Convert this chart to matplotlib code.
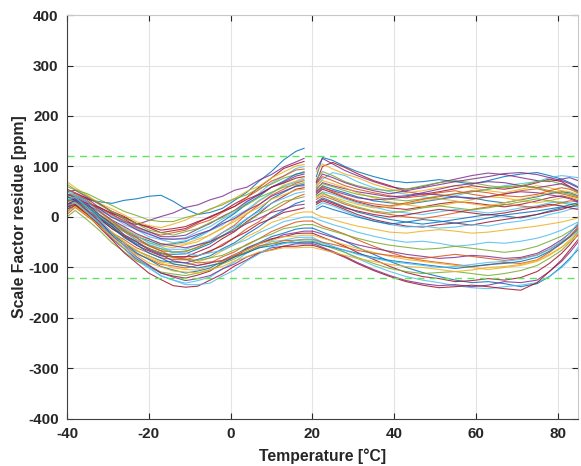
import matplotlib.pyplot as plt

nan = float('nan')

# temperature steps of the cold run and the hot run [degC]
temp_cold = [-40, -38, -35, -32, -29, -26, -23, -20, -17, -14, -11,
             -8, -5, -2, 1, 4, 7, 10, 13, 16, 18, 20]
temp_hot = [20, 21, 22.5, 25, 28, 31, 35, 39, 43, 47, 51,
            55, 59, 63, 67, 71, 75, 78, 81, 83, 85]

# scale factor residue per unit, cold run [ppm]
cold_ppm = [
    [30, 42, 35, 30, 27, 33, 36, 41, 43, 31, 16, 5, 9, 17, 33, 49, 71, 90, 113, 130, 136, nan],
    [55, 48, 36, 18, 6, -9, -15, -7, 1, 8, 19, 24, 34, 41, 53, 59, 73, 84, 99, 109, 116, nan],
    [40, 47, 37, 26, 11, 1, -13, -21, -31, -27, -23, -11, 1, 11, 26, 39, 59, 77, 96, 105, 110, nan],
    [70, 58, 43, 27, 16, 4, -9, -17, -21, -14, -6, 6, 14, 27, 37, 51, 61, 77, 89, 101, 104, nan],
    [25, 36, 27, 16, 1, -9, -23, -32, -43, -44, -41, -29, -19, -4, 9, 29, 47, 67, 81, 96, 100, nan],
    [45, 41, 29, 19, 4, -7, -21, -29, -36, -31, -26, -14, -6, 9, 21, 39, 54, 71, 81, 93, 95, nan],
    [60, 54, 46, 34, 23, 11, 3, -6, -9, -9, -1, 5, 16, 24, 36, 44, 57, 65, 77, 84, 90, nan],
    [35, 31, 17, 3, -13, -24, -39, -47, -56, -53, -49, -37, -26, -9, 7, 26, 41, 59, 71, 85, 88, nan],
    [50, 53, 39, 26, 9, -4, -19, -29, -39, -39, -36, -24, -13, 1, 13, 31, 44, 59, 69, 81, 85, nan],
    [20, 33, 27, 19, 7, -1, -13, -19, -26, -23, -19, -9, -1, 11, 21, 35, 45, 59, 67, 77, 80, nan],
    [40, 37, 23, 4, -9, -26, -37, -51, -57, -61, -55, -49, -35, -23, -5, 11, 31, 47, 63, 71, 78, nan],
    [55, 44, 31, 13, 1, -15, -25, -39, -45, -51, -47, -41, -27, -16, 1, 14, 33, 47, 61, 69, 75, nan],
    [30, 37, 19, 3, -16, -29, -46, -57, -67, -69, -69, -59, -49, -31, -16, 6, 24, 43, 55, 67, 72, nan],
    [65, 54, 41, 24, 11, -3, -13, -26, -31, -36, -29, -23, -11, -1, 13, 24, 39, 49, 59, 64, 68, nan],
    [15, 29, 14, -4, -23, -37, -53, -62, -73, -74, -73, -63, -53, -37, -23, -4, 14, 36, 49, 61, 65, nan],
    [45, 43, 29, 16, -1, -11, -25, -34, -43, -44, -43, -34, -26, -13, -3, 13, 25, 41, 51, 61, 62, nan],
    [25, 31, 13, -4, -23, -39, -56, -67, -77, -79, -79, -69, -59, -43, -29, -9, 7, 27, 41, 55, 58, nan],
    [50, 41, 24, 9, -9, -21, -36, -44, -53, -54, -53, -44, -36, -21, -9, 7, 19, 35, 44, 53, 55, nan],
    [35, 34, 19, 3, -16, -29, -45, -54, -63, -64, -64, -55, -46, -31, -19, -3, 11, 27, 37, 47, 50, nan],
    [20, 26, 7, -11, -31, -45, -61, -71, -81, -84, -85, -77, -69, -54, -41, -23, -9, 11, 25, 39, 45, nan],
    [45, 37, 23, 4, -11, -29, -41, -56, -63, -71, -67, -61, -49, -39, -23, -11, 6, 17, 31, 36, 40, nan],
    [10, 23, 4, -14, -36, -51, -67, -77, -87, -89, -91, -84, -77, -63, -51, -34, -19, -1, 13, 27, 32, nan],
    [30, 36, 23, 11, -6, -19, -33, -43, -53, -57, -61, -55, -49, -37, -27, -13, -3, 9, 15, 23, 25, nan],
    [40, 33, 19, -3, -19, -37, -49, -63, -71, -79, -79, -77, -67, -57, -41, -29, -13, -3, 9, 14, 18, nan],
    [20, 27, 9, -9, -31, -49, -67, -77, -89, -93, -96, -89, -81, -67, -55, -39, -27, -11, -3, 7, 10, 10],
    [50, 43, 29, 9, -7, -25, -37, -51, -59, -69, -72, -76, -71, -66, -54, -45, -31, -21, -9, -4, 0, 0],
    [5, 19, 1, -17, -39, -55, -73, -83, -94, -97, -101, -96, -91, -79, -69, -54, -43, -29, -19, -10, -8, -8],
    [35, 31, 19, -1, -17, -36, -49, -63, -71, -81, -83, -86, -81, -76, -65, -56, -43, -34, -23, -19, -15, -15],
    [25, 31, 11, -9, -33, -51, -71, -84, -98, -105, -111, -107, -101, -87, -76, -61, -51, -39, -32, -24, -22, -22],
    [45, 39, 26, 4, -14, -35, -49, -65, -75, -87, -91, -96, -91, -86, -74, -65, -53, -45, -35, -31, -28, -28],
    [15, 23, 4, -17, -43, -63, -83, -97, -111, -117, -121, -115, -107, -91, -79, -63, -53, -43, -39, -33, -32, -32],
    [30, 29, 15, -9, -29, -51, -65, -81, -91, -101, -104, -105, -97, -89, -75, -65, -53, -47, -39, -38, -36, -36],
    [20, 29, 9, -13, -41, -63, -86, -101, -117, -125, -131, -126, -119, -103, -89, -71, -59, -49, -46, -41, -40, -40],
    [55, 47, 33, 11, -7, -27, -41, -57, -67, -79, -84, -91, -89, -87, -77, -69, -57, -53, -47, -46, -44, -44],
    [0, 13, -6, -27, -51, -69, -87, -97, -109, -113, -116, -111, -105, -93, -83, -69, -61, -53, -51, -47, -48, -48],
    [40, 35, 21, -1, -19, -41, -55, -71, -81, -93, -97, -101, -96, -91, -79, -71, -61, -57, -51, -51, -50, -50],
    [25, 33, 13, -9, -35, -57, -79, -95, -111, -119, -126, -122, -116, -103, -93, -79, -71, -61, -58, -53, -53, -53],
    [20, 25, 4, -21, -45, -71, -91, -111, -124, -136, -139, -137, -125, -113, -97, -85, -71, -65, -58, -58, -56, -56],
    [10, 21, 3, -19, -39, -61, -75, -91, -99, -107, -109, -111, -104, -98, -87, -79, -69, -66, -61, -61, -60, -60],
    [35, 39, 19, -4, -33, -57, -81, -99, -116, -125, -134, -134, -131, -117, -105, -87, -73, -59, -53, -46, -45, -45],
]

# scale factor residue per unit, hot run [ppm]
hot_ppm = [
    [nan, 80, 118, 112, 100, 90, 80, 72, 68, 70, 74, 70, 65, 72, 80, 85, 88, 82, 75, 68, 60],
    [nan, 95, 116, 105, 92, 82, 70, 60, 55, 60, 68, 75, 82, 87, 84, 78, 72, 70, 75, 78, 72],
    [nan, 70, 100, 108, 98, 86, 72, 62, 50, 45, 50, 56, 62, 58, 55, 60, 68, 75, 70, 60, 50],
    [nan, 90, 105, 95, 85, 78, 65, 55, 48, 52, 58, 62, 58, 52, 48, 55, 62, 58, 52, 45, 40],
    [nan, 60, 75, 88, 82, 70, 58, 50, 45, 40, 36, 42, 50, 55, 62, 66, 70, 78, 82, 80, 78],
    [nan, 65, 80, 72, 62, 55, 48, 42, 38, 42, 48, 52, 45, 40, 45, 52, 56, 50, 46, 42, 38],
    [nan, 75, 90, 82, 70, 62, 55, 52, 55, 62, 68, 72, 68, 62, 58, 62, 70, 72, 65, 58, 50],
    [nan, 50, 62, 55, 48, 40, 32, 28, 25, 30, 35, 40, 38, 32, 28, 34, 40, 46, 50, 48, 42],
    [nan, 55, 68, 62, 56, 50, 45, 40, 42, 48, 55, 62, 66, 70, 68, 62, 58, 62, 66, 60, 52],
    [nan, 45, 55, 48, 38, 30, 22, 18, 15, 20, 26, 30, 28, 24, 20, 25, 32, 38, 42, 38, 32],
    [nan, 62, 72, 66, 58, 48, 38, 30, 24, 20, 22, 28, 34, 40, 38, 32, 28, 32, 38, 40, 35],
    [nan, 40, 50, 45, 36, 28, 20, 12, 8, 5, 10, 15, 12, 8, 12, 18, 22, 28, 30, 28, 25],
    [nan, 35, 42, 35, 25, 18, 10, 5, 0, -3, 2, 8, 15, 20, 25, 22, 18, 22, 28, 32, 30],
    [nan, 58, 66, 60, 52, 45, 40, 35, 32, 36, 42, 46, 50, 55, 60, 62, 58, 52, 48, 45, 40],
    [nan, 30, 38, 30, 20, 10, 2, -5, -10, -14, -10, -5, 0, 5, 2, -2, 5, 12, 18, 20, 22],
    [nan, 48, 58, 52, 45, 38, 34, 36, 40, 46, 44, 40, 36, 40, 46, 50, 48, 44, 40, 36, 30],
    [nan, 25, 32, 25, 15, 5, -5, -12, -18, -20, -15, -12, -16, -10, -5, 0, 5, 10, 15, 20, 25],
    [nan, 38, 45, 40, 32, 25, 18, 20, 26, 32, 36, 32, 26, 22, 28, 35, 42, 48, 52, 50, 45],
    [nan, 20, 28, 22, 12, 2, -8, -15, -20, -18, -22, -20, -15, -18, -12, -8, -2, 5, 10, 15, 18],
    [nan, 52, 60, 50, 40, 32, 26, 22, 28, 35, 40, 46, 52, 48, 42, 40, 45, 52, 58, 55, 48],
    [nan, 42, 48, 38, 28, 20, 12, 8, 12, 18, 22, 18, 14, 18, 24, 30, 36, 32, 28, 25, 22],
    [nan, 15, 22, 15, 8, 0, -8, -14, -10, -5, -8, -12, -8, -2, 4, 8, 12, 16, 20, 24, 28],
    [nan, 68, 85, 78, 68, 60, 52, 46, 52, 58, 64, 70, 75, 80, 86, 88, 84, 78, 72, 66, 58],
    [nan, 28, 35, 28, 18, 12, 5, 0, 4, 10, 15, 12, 8, 4, 8, 14, 20, 25, 22, 18, 15],
    [10, 5, 0, -5, -12, -18, -24, -30, -32, -28, -25, -28, -32, -30, -26, -22, -18, -14, -10, -6, -2],
    [0, -4, -8, -15, -22, -30, -38, -45, -50, -48, -52, -58, -55, -50, -52, -48, -42, -35, -26, -18, -10],
    [-8, -12, -18, -25, -34, -45, -58, -70, -80, -86, -90, -94, -98, -95, -90, -92, -85, -70, -52, -38, -20],
    [-15, -18, -22, -28, -35, -42, -50, -56, -60, -64, -62, -58, -62, -66, -70, -66, -58, -48, -38, -28, -18],
    [-22, -25, -30, -38, -48, -60, -74, -88, -100, -110, -118, -125, -130, -128, -132, -138, -132, -118, -98, -82, -65],
    [-28, -30, -34, -40, -48, -55, -62, -68, -74, -78, -82, -80, -76, -78, -82, -80, -72, -60, -45, -32, -15],
    [-32, -35, -40, -48, -58, -70, -84, -98, -110, -118, -122, -128, -126, -122, -125, -120, -108, -92, -72, -55, -35],
    [-36, -38, -42, -48, -55, -62, -70, -78, -84, -88, -92, -96, -100, -104, -100, -96, -88, -76, -60, -45, -28],
    [-40, -44, -50, -58, -70, -82, -96, -108, -118, -125, -130, -136, -140, -142, -138, -135, -130, -118, -100, -85, -60],
    [-44, -46, -50, -54, -60, -66, -72, -76, -80, -82, -78, -74, -78, -82, -86, -82, -75, -64, -50, -38, -22],
    [-48, -50, -55, -62, -70, -80, -92, -102, -108, -112, -110, -108, -112, -116, -112, -106, -96, -82, -66, -50, -30],
    [-50, -52, -56, -60, -66, -72, -80, -86, -90, -94, -98, -102, -98, -94, -92, -88, -80, -68, -52, -40, -25],
    [-53, -55, -60, -68, -78, -90, -104, -116, -126, -132, -136, -134, -138, -135, -128, -130, -125, -108, -88, -70, -50],
    [-56, -58, -62, -70, -80, -92, -106, -118, -128, -135, -140, -138, -135, -138, -142, -145, -130, -108, -85, -65, -45],
    [-60, -62, -65, -70, -76, -82, -88, -94, -98, -100, -104, -108, -105, -100, -98, -94, -86, -74, -60, -48, -38],
    [-45, -48, -52, -58, -66, -74, -82, -88, -92, -96, -100, -98, -94, -90, -88, -84, -76, -64, -48, -32, -12],
]

limit_ppm = 120

matlab_colors = ['#0072BD', '#D95319', '#EDB120', '#7E2F8E',
                 '#77AC30', '#4DBEEE', '#A2142F']

plt.rcParams['font.family'] = ['Liberation Sans', 'DejaVu Sans']
plt.rcParams['axes.unicode_minus'] = False

fig = plt.figure(figsize=(5.81, 4.66), dpi=100)
ax = fig.add_axes([0.1153, 0.1009, 0.8795, 0.8669])

for i in range(len(cold_ppm)):
    c = matlab_colors[(i * 3) % len(matlab_colors)]
    ax.plot(temp_cold, cold_ppm[i], color=c, lw=0.8, alpha=0.85)
    ax.plot(temp_hot, hot_ppm[i], color=c, lw=0.8, alpha=0.85)

ax.axhline(limit_ppm, color='#5ce65c', lw=1.0, ls=(0, (5, 4)))
ax.axhline(-limit_ppm, color='#5ce65c', lw=1.0, ls=(0, (5, 4)))

ax.set_xlim(-40, 85)
ax.set_ylim(-400, 400)
ax.set_xticks(range(-40, 81, 20))
ax.set_yticks(range(-400, 401, 100))
ax.grid(True, color='#e3e3e3', lw=0.8)
ax.set_axisbelow(True)

ax.tick_params(direction='in', length=4, top=True, right=True,
               labelsize=11, colors='#262626', pad=6)
for lbl in ax.get_xticklabels() + ax.get_yticklabels():
    lbl.set_fontweight('bold')
for s in ['left', 'bottom']:
    ax.spines[s].set_color('#404040')
for s in ['top', 'right']:
    ax.spines[s].set_color('#c8c8c8')

ax.set_xlabel('Temperature [°C]', fontsize=11.3, fontweight='bold',
              color='#262626', labelpad=5)
ax.set_ylabel('Scale Factor residue [ppm]', fontsize=11.3, fontweight='bold',
              color='#262626', labelpad=1)

fig.savefig('out.png', dpi=100)
